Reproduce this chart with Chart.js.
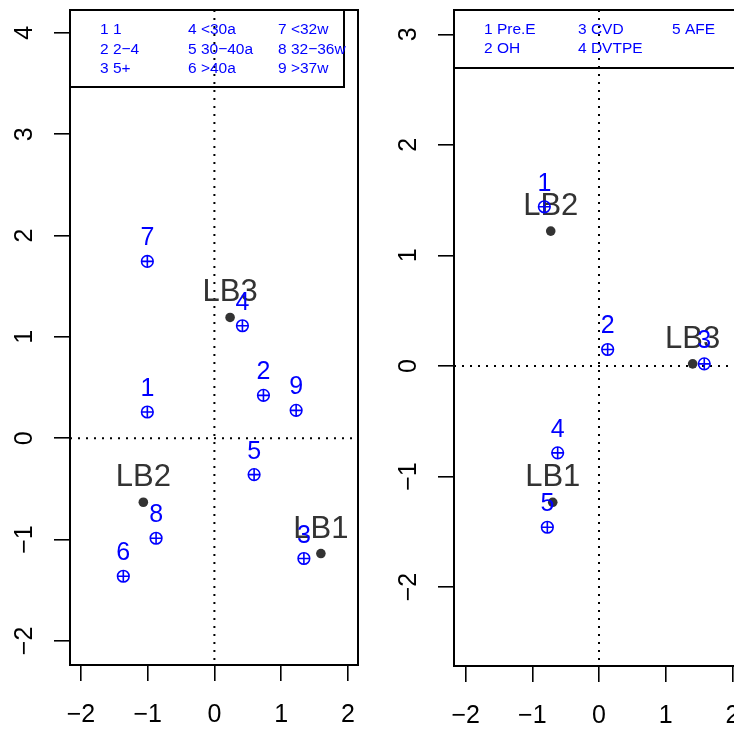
<!DOCTYPE html>
<html><head><meta charset="utf-8">
<script src="https://cdn.jsdelivr.net/npm/chart.js@4"></script>
<style>
html,body{margin:0;padding:0;background:#fff;overflow:hidden}
#wrap{position:relative;width:734px;height:729px;overflow:hidden;background:#fff}
canvas{position:absolute;top:0}
</style></head><body>
<div id="wrap">
<canvas id="c1" width="380" height="729" style="left:0px"></canvas>
<canvas id="c2" width="400" height="729" style="left:380px"></canvas>
</div>
<script>
// ---- data ----
const leftCategories = ["1","2","3","4","5","6","7","8","9"];
const leftCatX = [-1.005, 0.735, 1.341, 0.42, 0.595, -1.365, -1.005, -0.874, 1.225];
const leftCatY = [0.259, 0.423, -1.187, 1.110, -0.359, -1.362, 1.745, -0.987, 0.275];
const leftGroups = ["LB1","LB2","LB3"];
const leftGroupX = [1.596, -1.065, 0.235];
const leftGroupY = [-1.138, -0.632, 1.192];
const leftLegend = ["1 1","2 2\u22124","3 5+","4 <30a","5 30\u221240a","6 >40a","7 <32w","8 32\u221236w","9 >37w"];

const rightCategories = ["1","2","3","4","5"];
const rightCatX = [-0.82, 0.13, 1.579, -0.62, -0.775];
const rightCatY = [1.44, 0.149, 0.019, -0.786, -1.459];
const rightGroups = ["LB1","LB2","LB3"];
const rightGroupX = [-0.694, -0.724, 1.405];
const rightGroupY = [-1.233, 1.22, 0.019];
const rightLegend = ["1 Pre.E","2 OH","3 CVD","4 DVTPE","5 AFE"];

const xTicks = [-2,-1,0,1,2];
const xTickLabels = ["\u22122","\u22121","0","1","2"];
const leftYTicks = [-2,-1,0,1,2,3,4];
const leftYTickLabels = ["\u22122","\u22121","0","1","2","3","4"];
const rightYTicks = [-2,-1,0,1,2,3];
const rightYTickLabels = ["\u22122","\u22121","0","1","2","3"];

// ---- drawing ----
const FONT = "'Liberation Sans', Arial, Helvetica, sans-serif";
Chart.defaults.font.family = FONT;
const BLUE = '#0000FF';
const DARK = '#333333';

function pts(xs, ys){ return xs.map((v,i)=>({x:v, y:ys[i]})); }

function panelPlugin(p){
  return {
    id:'panel',
    beforeDatasetsDraw(chart){
      const {ctx, chartArea:a, scales:{x, y}} = chart;
      ctx.save();
      // zero reference lines
      ctx.strokeStyle = '#000'; ctx.lineWidth = 2; ctx.setLineDash([2,6]);
      const x0 = x.getPixelForValue(0), y0 = y.getPixelForValue(0);
      ctx.beginPath();
      ctx.moveTo(x0, a.top); ctx.lineTo(x0, a.bottom);
      ctx.moveTo(a.left, y0); ctx.lineTo(a.right, y0);
      ctx.stroke();
      ctx.setLineDash([]);
      // legend box
      ctx.lineWidth = 2;
      ctx.strokeRect(a.left, a.top, p.legendW, p.legendH);
      ctx.fillStyle = BLUE; ctx.font = '15.5px ' + FONT;
      ctx.textAlign = 'left'; ctx.textBaseline = 'middle';
      p.legend.forEach((t,i)=>{
        const c = Math.floor(i / p.rows), r = i % p.rows;
        ctx.fillText(t, a.left + p.colX[c], a.top + p.rowY[r]);
      });
      // plot box
      ctx.strokeStyle = '#000'; ctx.lineWidth = 2;
      ctx.strokeRect(a.left, a.top, a.right - a.left, a.bottom - a.top);
      // rotated y tick labels
      ctx.fillStyle = '#000'; ctx.font = '25px ' + FONT;
      ctx.textAlign = 'center'; ctx.textBaseline = 'alphabetic';
      y.ticks.forEach(t=>{
        const idx = p.yTicks.indexOf(t.value);
        const lab = idx >= 0 ? p.yTickLabels[idx] : String(t.value);
        const py = y.getPixelForValue(t.value);
        ctx.save();
        ctx.translate(a.left - 47 + 0.358*25, py);
        ctx.rotate(-Math.PI/2);
        ctx.fillText(lab, 0, 0);
        ctx.restore();
      });
      ctx.restore();
    },
    afterDatasetDraw(chart, args){
      const ctx = chart.ctx;
      const meta = chart.getDatasetMeta(args.index);
      let labels, size, color;
      if (args.index === 2){ labels = p.groups; size = 31; color = DARK; }
      else if (args.index === 0){ labels = p.cats; size = 25; color = BLUE; }
      else return;
      ctx.save();
      ctx.fillStyle = color; ctx.font = size + 'px ' + FONT;
      ctx.textAlign = 'center'; ctx.textBaseline = 'alphabetic';
      meta.data.forEach((el,i)=>{
        ctx.fillText(labels[i], el.x, el.y - 16);
      });
      ctx.restore();
    }
  };
}

function makePanel(id, p){
  new Chart(document.getElementById(id), {
    type:'scatter',
    data:{ datasets:[
      { data: pts(p.catX, p.catY), pointStyle:'circle', pointRadius:5.8, pointHoverRadius:5.8,
        borderColor:BLUE, backgroundColor:'rgba(0,0,0,0)', borderWidth:1.6 },
      { data: pts(p.catX, p.catY), pointStyle:'cross', pointRadius:5.8, pointHoverRadius:5.8,
        borderColor:BLUE, backgroundColor:BLUE, borderWidth:1.6 },
      { data: pts(p.grpX, p.grpY), pointStyle:'circle', pointRadius:4.8, pointHoverRadius:4.8,
        borderColor:DARK, backgroundColor:DARK, borderWidth:0 }
    ]},
    options:{
      responsive:false, animation:false, devicePixelRatio:1,
      layout:{ padding:{ top:10, right:p.padRight, left:0, bottom:0 } },
      plugins:{ legend:{display:false}, tooltip:{enabled:false} },
      events:[],
      scales:{
        x:{ type:'linear', position:'bottom', min:p.xMin, max:p.xMax,
            afterBuildTicks(s){ s.ticks = xTicks.map(v=>({value:v})); },
            afterFit(s){ s.height = p.xAxisH; },
            border:{display:false},
            grid:{ display:true, drawOnChartArea:false, drawTicks:true, tickLength:16, color:'#000', lineWidth:1.6 },
            ticks:{ color:'#000', font:{size:25, family:FONT}, padding:19, maxRotation:0, minRotation:0,
                    callback(v){ const i = xTicks.indexOf(v); return i>=0 ? xTickLabels[i] : ''; } } },
        y:{ type:'linear', position:'left', min:p.yMin, max:p.yMax,
            afterBuildTicks(s){ s.ticks = p.yTicks.map(v=>({value:v})); },
            afterFit(s){ s.width = p.yAxisW; },
            border:{display:false},
            grid:{ display:true, drawOnChartArea:false, drawTicks:true, tickLength:16, color:'#000', lineWidth:1.6 },
            ticks:{ display:false } }
      }
    },
    plugins:[panelPlugin(p)]
  });
}

makePanel('c1', {
  catX:leftCatX, catY:leftCatY, grpX:leftGroupX, grpY:leftGroupY,
  cats:leftCategories, groups:leftGroups, legend:leftLegend, rows:3,
  colX:[30,118,208], rowY:[20,39.5,59], legendW:274, legendH:77,
  xMin:-2.164, xMax:2.152, yMin:-2.238, yMax:4.226,
  yTicks:leftYTicks, yTickLabels:leftYTickLabels,
  padRight:22, yAxisW:70, xAxisH:64
});
makePanel('c2', {
  catX:rightCatX, catY:rightCatY, grpX:rightGroupX, grpY:rightGroupY,
  cats:rightCategories, groups:rightGroups, legend:rightLegend, rows:2,
  colX:[30,124,218], rowY:[20,39], legendW:300, legendH:58,
  xMin:-2.175, xMax:2.145, yMin:-2.714, yMax:3.22,
  yTicks:rightYTicks, yTickLabels:rightYTickLabels,
  padRight:38, yAxisW:74, xAxisH:63
});
</script>
</body></html>
